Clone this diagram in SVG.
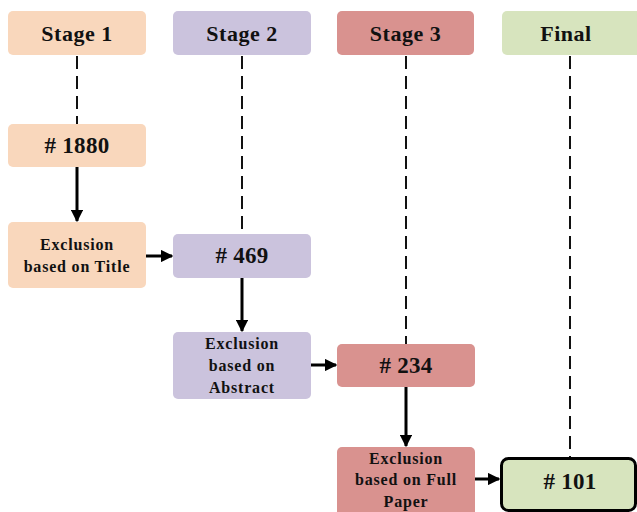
<svg xmlns="http://www.w3.org/2000/svg" width="637" height="512" viewBox="0 0 637 512">
  <style>
    .s1 { fill: #F9D7BC; }
    .s2 { fill: #CBC3DD; }
    .s3 { fill: #D9928F; }
    .s4 { fill: #D7E4BE; }
    text { font-family: "Liberation Serif", "Times New Roman", serif; font-weight: bold; fill: #111; text-anchor: middle; }
    .head { font-size: 22px; letter-spacing: 0.5px; }
    .num { font-size: 23px; letter-spacing: 0.3px; }
    .small { font-size: 16px; letter-spacing: 0.8px; }
    .dash { stroke: #111; stroke-width: 2; stroke-dasharray: 13 7; fill: none; }
    .arrow { stroke: #000; stroke-width: 3; fill: none; marker-end: url(#head); }
  </style>
  <defs>
    <marker id="head" viewBox="0 0 10 10" refX="9" refY="5" markerWidth="4.2" markerHeight="4.2" orient="auto" markerUnits="strokeWidth">
      <path d="M0,0 L10,5 L0,10 Z" fill="#000"/>
    </marker>
  </defs>
  <rect width="637" height="512" fill="#fff"/>

  <!-- dashed stage guides -->
  <g id="guides">
    <line class="dash" x1="77" y1="56" x2="77" y2="124"/>
    <line class="dash" x1="242" y1="56" x2="242" y2="234"/>
    <line class="dash" x1="406" y1="56" x2="406" y2="344"/>
    <line class="dash" x1="570" y1="56" x2="570" y2="457"/>
  </g>

  <!-- headers -->
  <g id="stage1">
    <rect class="s1" x="8" y="11" width="138" height="44" rx="5"/>
    <text class="head" x="77" y="41">Stage 1</text>
  </g>
  <g id="stage2">
    <rect class="s2" x="173" y="11" width="138" height="44" rx="5"/>
    <text class="head" x="242" y="41">Stage 2</text>
  </g>
  <g id="stage3">
    <rect class="s3" x="337" y="11" width="137" height="44" rx="5"/>
    <text class="head" x="405.5" y="41">Stage 3</text>
  </g>
  <g id="final">
    <rect class="s4" x="502" y="11" width="140" height="44" rx="5"/>
    <text class="head" x="566" y="41">Final</text>
  </g>

  <!-- flow nodes -->
  <g id="n1880">
    <rect class="s1" x="8" y="124" width="138" height="43" rx="5"/>
    <text class="num" x="77" y="153">#&#160;1880</text>
  </g>
  <g id="excl-title">
    <rect class="s1" x="8" y="222" width="138" height="66" rx="5"/>
    <text class="small" x="77" y="250">Exclusion</text>
    <text class="small" x="77" y="272">based on Title</text>
  </g>
  <g id="n469">
    <rect class="s2" x="173" y="234" width="138" height="44" rx="5"/>
    <text class="num" x="242" y="263">#&#160;469</text>
  </g>
  <g id="excl-abstract">
    <rect class="s2" x="173" y="332" width="138" height="67" rx="5"/>
    <text class="small" x="242" y="349">Exclusion</text>
    <text class="small" x="242" y="371">based on</text>
    <text class="small" x="242" y="393">Abstract</text>
  </g>
  <g id="n234">
    <rect class="s3" x="337" y="344" width="138" height="43" rx="5"/>
    <text class="num" x="406" y="373">#&#160;234</text>
  </g>
  <g id="excl-full">
    <rect class="s3" x="337" y="447" width="138" height="70" rx="5"/>
    <text class="small" x="406" y="464">Exclusion</text>
    <text class="small" x="406" y="485">based on Full</text>
    <text class="small" x="406" y="507">Paper</text>
  </g>
  <g id="n101">
    <rect class="s4" x="501.5" y="458.5" width="134" height="52" rx="7" stroke="#000" stroke-width="3"/>
    <text class="num" x="570" y="489">#&#160;101</text>
  </g>

  <!-- connectors -->
  <g id="connectors">
    <line class="arrow" x1="77" y1="167" x2="77" y2="221"/>
    <line class="arrow" x1="146" y1="256" x2="172" y2="256"/>
    <line class="arrow" x1="242" y1="278" x2="242" y2="331"/>
    <line class="arrow" x1="311" y1="365" x2="336" y2="365"/>
    <line class="arrow" x1="406" y1="387" x2="406" y2="446"/>
    <line class="arrow" x1="475" y1="479" x2="499" y2="479"/>
  </g>
</svg>
